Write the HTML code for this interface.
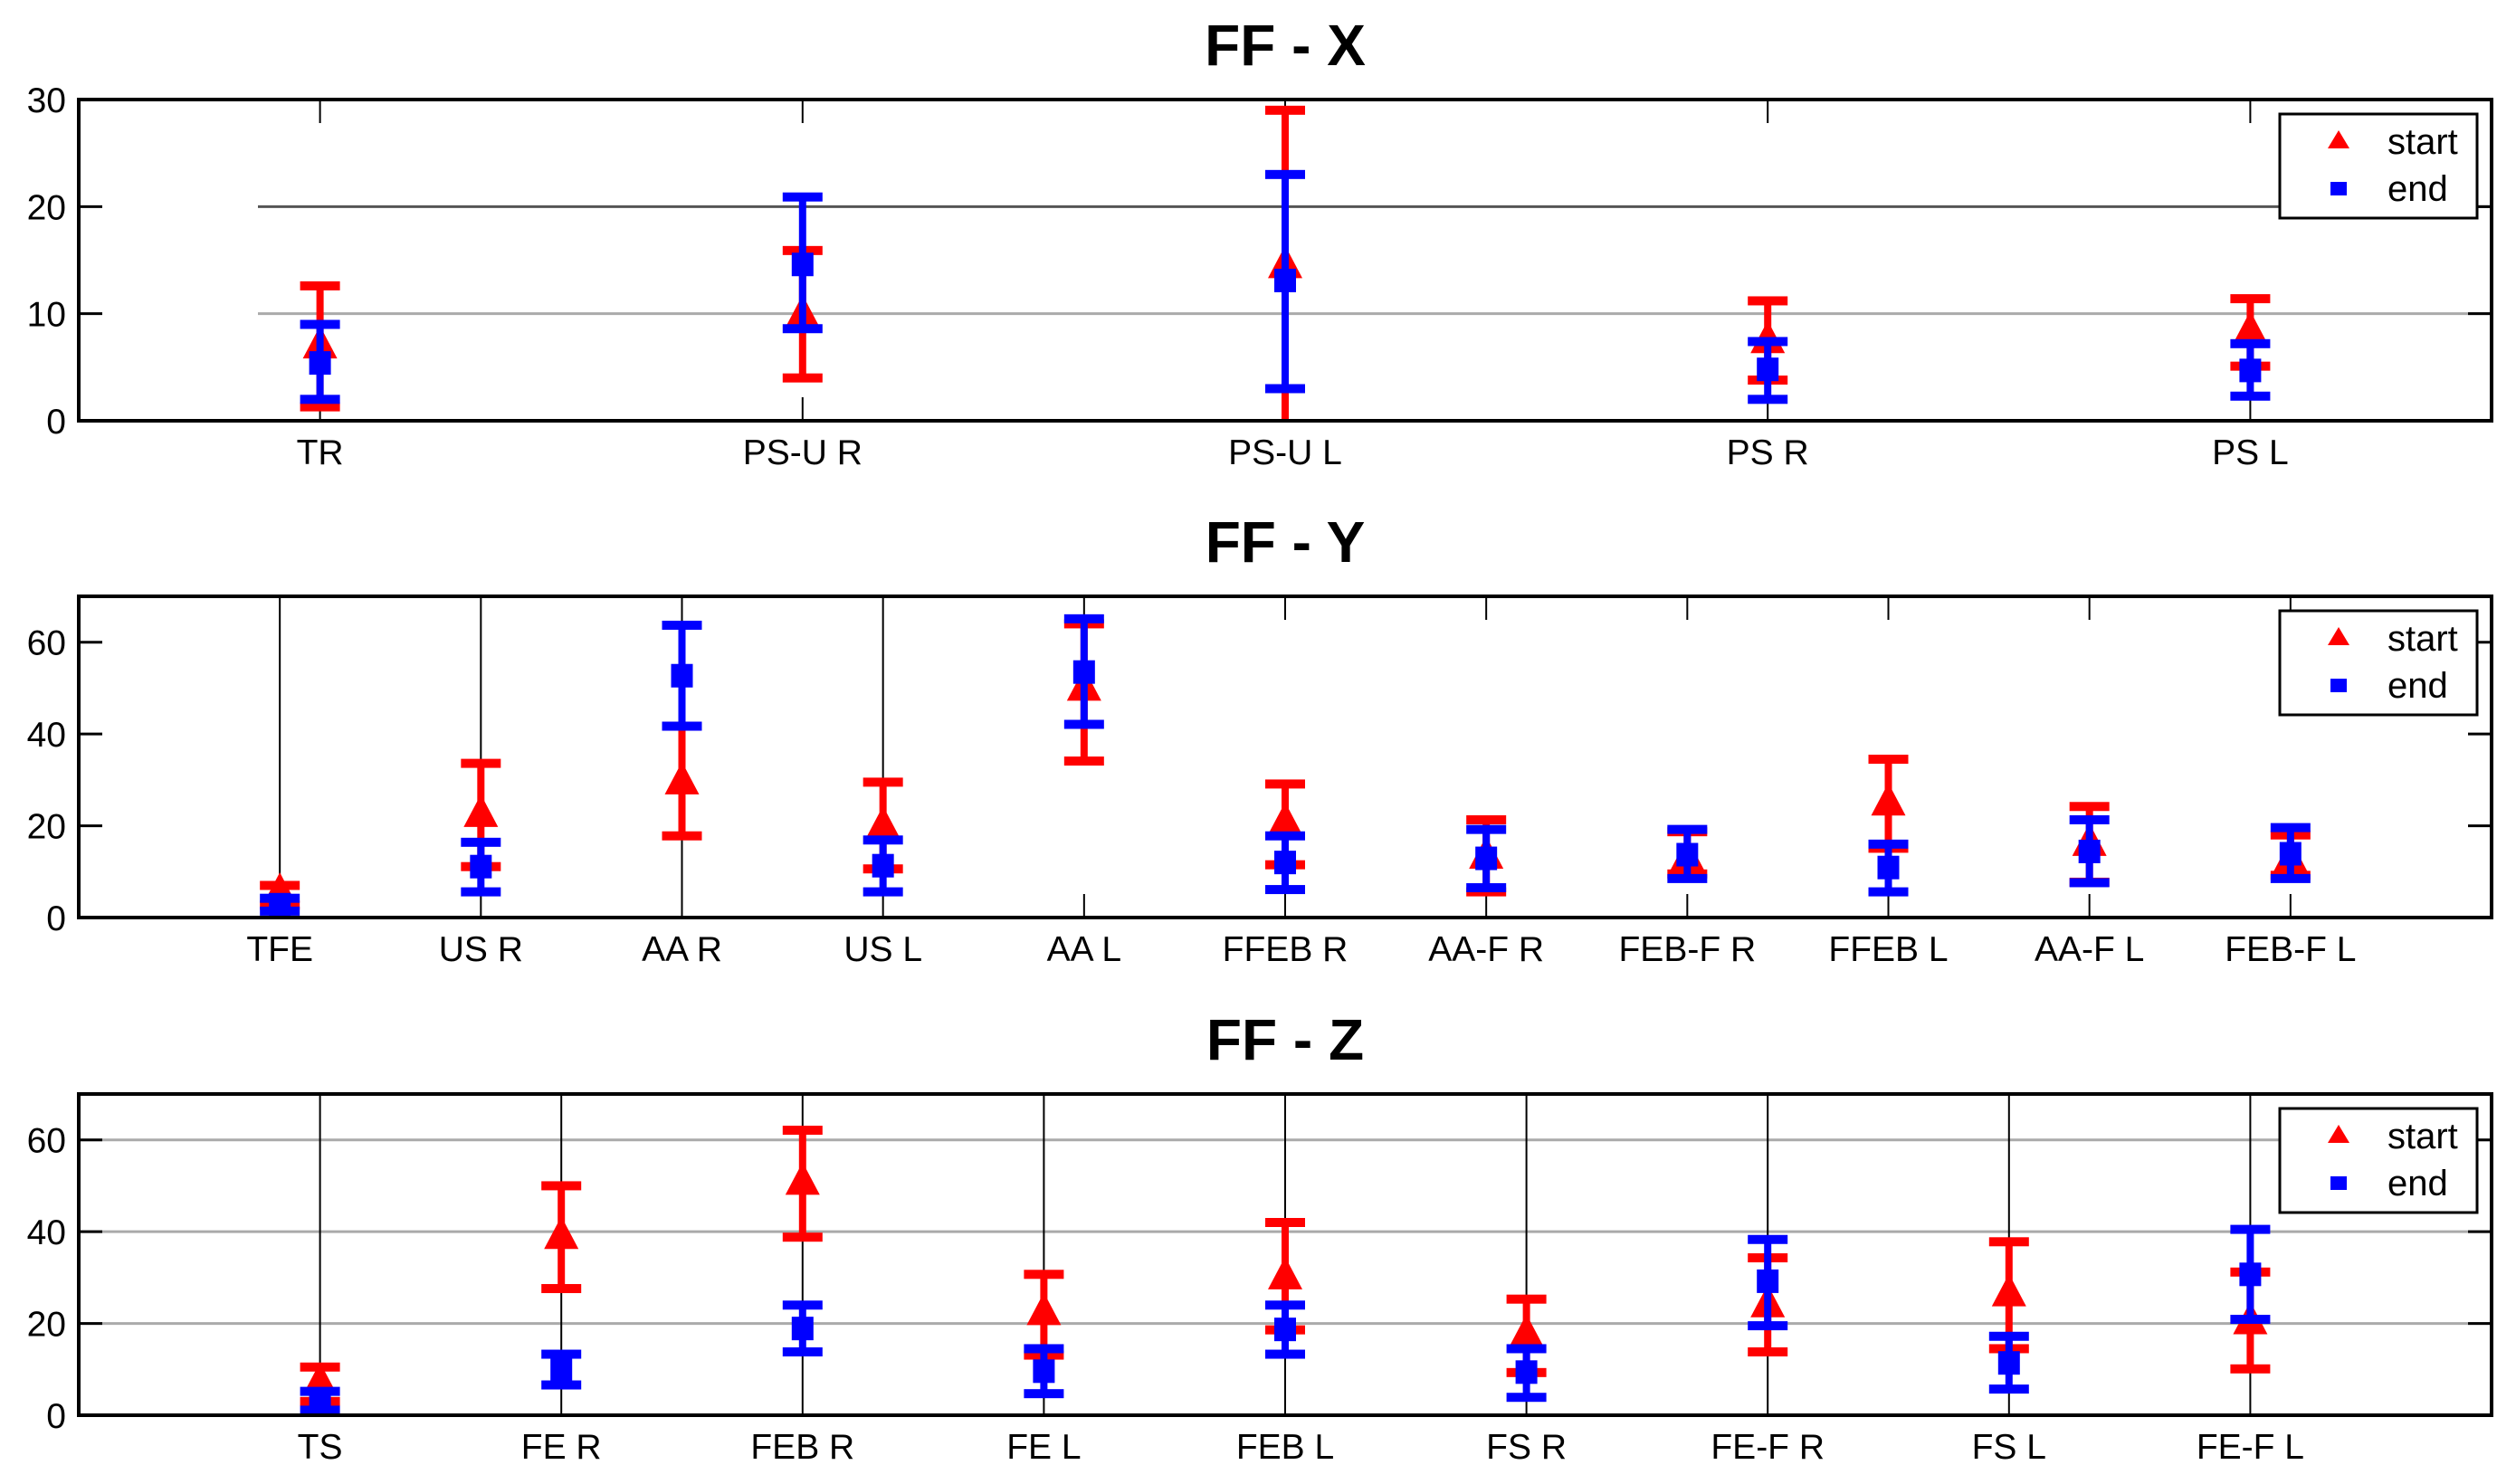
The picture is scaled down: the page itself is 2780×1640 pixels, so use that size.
<!DOCTYPE html>
<html><head><meta charset="utf-8">
<style>
html,body{margin:0;padding:0;background:#fff;}
svg{display:block;font-family:"Liberation Sans",Arial,sans-serif;}
</style></head>
<body>
<svg id="chart" width="2780" height="1640" viewBox="0 0 2780 1640" xmlns="http://www.w3.org/2000/svg"></svg>
<script>
// ---- Panel X data ----
const xCats = ["TR","PS-U R","PS-U L","PS R","PS L"];
const xStartMean = [7.0, 9.9, 14.5, 7.5, 8.4];
const xStartLo = [1.3, 4.0, -1.0, 3.8, 5.1];
const xStartHi = [12.6, 15.9, 29.0, 11.2, 11.4];
const xEndMean = [5.4, 14.6, 13.1, 4.8, 4.7];
const xEndLo = [2.0, 8.6, 3.0, 2.0, 2.3];
const xEndHi = [9.0, 20.9, 23.0, 7.4, 7.2];
const xTicks = [0, 10, 20, 30];
// ---- Panel Y data ----
const yCats = ["TFE","US R","AA R","US L","AA L","FFEB R","AA-F R","FEB-F R","FFEB L","AA-F L","FEB-F L"];
const yStartMean = [5.5, 22.5, 29.6, 20.0, 50.0, 20.8, 13.4, 13.0, 25.0, 16.2, 12.7];
const yStartLo = [2.7, 11.1, 17.8, 10.6, 34.1, 11.5, 5.6, 9.5, 15.1, 7.7, 9.2];
const yStartHi = [7.0, 33.6, 41.7, 29.5, 64.0, 29.1, 21.3, 18.7, 34.5, 24.2, 18.0];
const yEndMean = [2.8, 11.1, 52.7, 11.3, 53.5, 12.0, 12.9, 13.7, 10.9, 14.4, 13.9];
const yEndLo = [1.4, 5.6, 41.7, 5.6, 42.1, 6.1, 6.5, 8.5, 5.6, 7.6, 8.5];
const yEndHi = [4.2, 16.4, 63.7, 16.9, 65.1, 17.8, 19.2, 19.2, 16.0, 21.3, 19.6];
const yTicks = [0, 20, 40, 60];
// ---- Panel Z data ----
const zCats = ["TS","FE R","FEB R","FE L","FEB L","FS R","FE-F R","FS L","FE-F L"];
const zStartMean = [7.2, 39.0, 50.8, 22.4, 30.2, 17.7, 24.1, 26.5, 20.4];
const zStartLo = [3.0, 27.6, 38.8, 13.1, 18.6, 9.3, 13.8, 14.5, 10.1];
const zStartHi = [10.5, 50.0, 62.1, 30.7, 42.0, 25.3, 34.3, 37.8, 31.2];
const zEndMean = [2.8, 9.9, 18.9, 9.6, 18.7, 9.4, 29.2, 11.4, 30.7];
const zEndLo = [1.1, 6.6, 13.8, 4.7, 13.3, 3.9, 19.5, 5.7, 20.9];
const zEndHi = [5.2, 13.3, 24.0, 14.5, 24.0, 14.5, 38.3, 17.2, 40.5];
const zTicks = [0, 20, 40, 60];

const NS = "http://www.w3.org/2000/svg";
const svg = document.getElementById("chart");
function mk(tag, attrs, parent){
  const e = document.createElementNS(NS, tag);
  for (const k in attrs) e.setAttribute(k, attrs[k]);
  (parent || svg).appendChild(e);
  return e;
}
const L = 87, R = 2753;

function panel(cfg){
  const g = mk("g", {});
  
  
  const top = cfg.top, bot = cfg.bot;
  const n = cfg.cats.length;
  const xPos = i => L + (i + 1 - cfg.xmin) / (cfg.xmax - cfg.xmin) * (R - L);
  const yPos = v => bot - v / cfg.ymax * (bot - top);

  // grid lines
  cfg.grid.forEach(v => {
    const gl = mk("line", {x1: cfg.gridStart, x2: R, y1: yPos(v), y2: yPos(v), stroke: v === 20 && cfg.dark20 ? "#555" : "#aaa", "stroke-width": 3}, g);
    
    
  });
  // vertical category lines / ticks
  for (let i = 0; i < n; i++){
    const x = xPos(i);
    if (cfg.fullLines.includes(i)){
      const vl = mk("line", {x1: x, x2: x, y1: top, y2: bot, stroke: "#000", "stroke-width": 2}, g);
      
      
    } else {
      const t1 = mk("line", {x1: x, x2: x, y1: top, y2: top + 26, stroke: "#000", "stroke-width": 2}, g);
      
      
      const t2 = mk("line", {x1: x, x2: x, y1: bot - 26, y2: bot, stroke: "#000", "stroke-width": 2}, g);
      
      
    }
    const lbl = mk("text", {x: x, y: bot + 48, "text-anchor": "middle", "font-size": 39, fill: "#000"}, g);
    lbl.textContent = cfg.cats[i];
    
    
  }
  // y ticks
  cfg.ticks.forEach(v => {
    const y = yPos(v);
    const t = mk("line", {x1: L, x2: L + 26, y1: y, y2: y, stroke: "#000", "stroke-width": 3}, g);
    
    
    if (v > 0 && v < cfg.ymax){
      const tr = mk("line", {x1: R - 26, x2: R, y1: y, y2: y, stroke: "#000", "stroke-width": 3}, g);
      
      
    }
    const tl = mk("text", {x: L - 14, y: y + 14, "text-anchor": "end", "font-size": 39, fill: "#000"}, g);
    tl.textContent = String(v);
    
    
  });
  // series
  function series(mean, lo, hi, color, marker, sname){
    for (let i = 0; i < n; i++){
      const x = xPos(i);
      const yl = Math.min(yPos(lo[i]), bot), yh = yPos(hi[i]);
      const sg = mk("g", {}, g);
      
      
      mk("line", {x1: x, x2: x, y1: yl, y2: yh, stroke: color, "stroke-width": 8}, sg);
      mk("rect", {x: x - 22, y: yh - 5, width: 44, height: 10, fill: color}, sg);
      if (lo[i] >= 0) mk("rect", {x: x - 22, y: yPos(lo[i]) - 5, width: 44, height: 10, fill: color}, sg);
      const ym = yPos(mean[i]);
      if (marker === "tri"){
        mk("polygon", {points: `${x},${ym - 22} ${x - 19},${ym + 14} ${x + 19},${ym + 14}`, fill: color}, sg);
      } else {
        mk("rect", {x: x - 12, y: ym - 13, width: 24, height: 26, fill: color}, sg);
      }
    }
  }
  series(cfg.sMean, cfg.sLo, cfg.sHi, "#ff0000", "tri", "start");
  series(cfg.eMean, cfg.eLo, cfg.eHi, "#0000ff", "sq", "end");

  // axes frame
  const fr = mk("rect", {x: L, y: top, width: R - L, height: bot - top, fill: "none", stroke: "#000", "stroke-width": 4}, g);
  
  

  // title
  const tt = mk("text", {x: 1420, y: top - 38, "text-anchor": "middle", "font-size": 64, "font-weight": "bold", fill: "#000"}, g);
  tt.textContent = cfg.title;
  
  

  // legend
  const lg = mk("g", {}, g);
  
  
  mk("rect", {x: 2519, y: top + 16, width: 218, height: 115, fill: "#fff", stroke: "#000", "stroke-width": 3}, lg);
  const e1 = mk("g", {}, lg);
  
  
  mk("polygon", {points: `2584,${top + 34} 2572,${top + 54} 2596,${top + 54}`, fill: "#ff0000"}, e1);
  const s1 = mk("text", {x: 2638, y: top + 60, "font-size": 40, fill: "#000"}, e1);
  s1.textContent = "start";
  const e2 = mk("g", {}, lg);
  
  
  mk("rect", {x: 2575, y: top + 91, width: 18, height: 15, fill: "#0000ff"}, e2);
  const s2 = mk("text", {x: 2638, y: top + 112, "font-size": 40, fill: "#000"}, e2);
  s2.textContent = "end";
}

panel({name: "panel-ff-x", title: "FF - X", top: 110, bot: 465, ymax: 30, xmin: 0.5, xmax: 5.5,
  cats: xCats, ticks: xTicks, grid: [10, 20], dark20: true, gridStart: 285, fullLines: [],
  sMean: xStartMean, sLo: xStartLo, sHi: xStartHi, eMean: xEndMean, eLo: xEndLo, eHi: xEndHi});
panel({name: "panel-ff-y", title: "FF - Y", top: 659, bot: 1014, ymax: 70, xmin: 0, xmax: 12,
  cats: yCats, ticks: yTicks, grid: [], dark20: false, gridStart: L, fullLines: [0, 1, 2, 3],
  sMean: yStartMean, sLo: yStartLo, sHi: yStartHi, eMean: yEndMean, eLo: yEndLo, eHi: yEndHi});
panel({name: "panel-ff-z", title: "FF - Z", top: 1209, bot: 1564, ymax: 70, xmin: 0, xmax: 10,
  cats: zCats, ticks: zTicks, grid: [20, 40, 60], dark20: false, gridStart: L, fullLines: [0,1,2,3,4,5,6,7,8],
  sMean: zStartMean, sLo: zStartLo, sHi: zStartHi, eMean: zEndMean, eLo: zEndLo, eHi: zEndHi});
</script>
</body></html>
